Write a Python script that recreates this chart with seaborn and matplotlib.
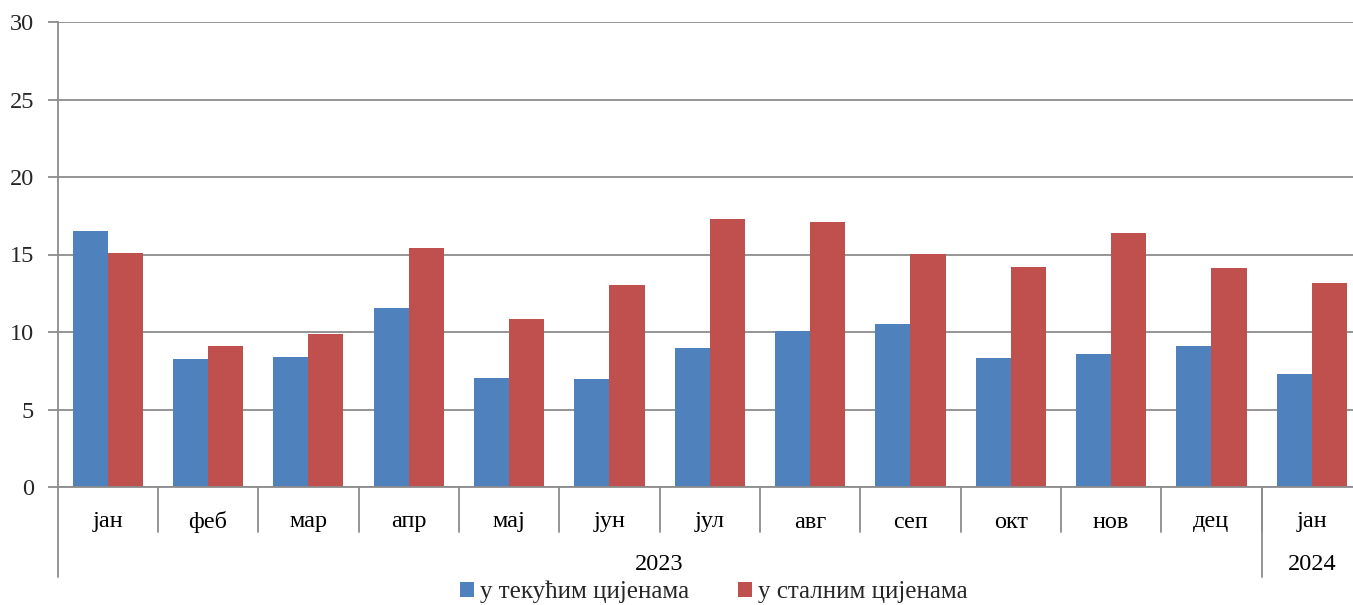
import matplotlib
matplotlib.use("Agg")
import matplotlib.pyplot as plt
import matplotlib.transforms as mtransforms
from matplotlib.patches import Patch
import seaborn as sns
import pandas as pd

months = ["јан", "феб", "мар", "апр", "мај", "јун", "јул", "авг", "сеп", "окт", "нов", "дец", "јан"]
years = ["2023", "2024"]
year_counts = [12, 1]
series_names = ["у текућим цијенама", "у сталним цијенама"]
current_prices = [16.5, 8.26, 8.4, 11.55, 7.03, 6.98, 8.97, 10.06, 10.5, 8.32, 8.58, 9.1, 7.3]
constant_prices = [15.1, 9.1, 9.87, 15.42, 10.84, 13.03, 17.29, 17.1, 15.03, 14.19, 16.39, 14.13, 13.16]
colors = ["#4F81BD", "#C0504D"]

sns.set_theme(style="white")
plt.rcParams["font.family"] = ["Liberation Serif", "DejaVu Serif"]

keys = [f"{i}" for i in range(len(months))]
df = pd.DataFrame({
    "key": keys * 2,
    "value": current_prices + constant_prices,
    "series": [series_names[0]] * len(keys) + [series_names[1]] * len(keys),
})

W, H = 1353, 605
left_px, right_px, top_px, bottom_px = 57.5, 1362, 22, 487
fig = plt.figure(figsize=(W / 100, H / 100), dpi=100)
ax = fig.add_axes([left_px / W, 1 - bottom_px / H, (right_px - left_px) / W, (bottom_px - top_px) / H])

sns.barplot(data=df, x="key", y="value", hue="series", palette=colors,
            width=0.7, saturation=1, ax=ax, legend=False, linewidth=0)

ax.set_ylim(0, 30)
ax.set_xlim(-0.5, len(months) - 0.5)
ax.set_yticks(range(0, 31, 5))
ax.yaxis.grid(True, color="#8c8c8c", linewidth=1.3)
ax.set_axisbelow(True)
ax.set_xlabel("")
ax.set_ylabel("")
for s in ["top", "right", "bottom"]:
    ax.spines[s].set_visible(False)
gray = "#8c8c8c"
ax.spines["left"].set_color(gray)
ax.spines["left"].set_linewidth(1.3)
ax.tick_params(axis="y", length=7, width=1.3, color=gray, labelsize=17.5, pad=10, left=True)
ax.set_xticks([])

trans = mtransforms.blended_transform_factory(ax.transData, ax.transAxes)
px = 1.0 / (bottom_px - top_px)  # one pixel in axes-fraction units
ax.plot([-0.5, len(months) - 0.5], [0, 0], transform=trans, color=gray, lw=1.3, clip_on=False)
ax.plot([-0.5, -0.5], [0, -90 * px], transform=trans, color=gray, lw=1.3, clip_on=False)
for i in range(1, len(months)):
    ax.plot([i - 0.5, i - 0.5], [0, -45 * px], transform=trans, color=gray, lw=1.3, clip_on=False)
pos = 0
for c in year_counts[:-1]:
    pos += c
    ax.plot([pos - 0.5, pos - 0.5], [0, -90 * px], transform=trans, color=gray, lw=1.3, clip_on=False)

for i, m in enumerate(months):
    ax.text(i, -35 * px, m, transform=trans, ha="center", va="center", fontsize=17.5, color="black")

start = 0
for y, c in zip(years, year_counts):
    center = start + (c - 1) / 2
    ax.text(center, -77 * px, y, transform=trans, ha="center", va="center", fontsize=17.5, color="black")
    start += c

handles = [Patch(facecolor=colors[0], edgecolor="none"), Patch(facecolor=colors[1], edgecolor="none")]
fig.legend(handles, series_names, loc="center", bbox_to_anchor=(714 / W, 1 - 592 / H), ncol=2,
           frameon=False, fontsize=18, handlelength=0.55, handleheight=0.55, handletextpad=0.25,
           columnspacing=1.95, borderpad=0, borderaxespad=0)

fig.savefig("out.png", dpi=100)
